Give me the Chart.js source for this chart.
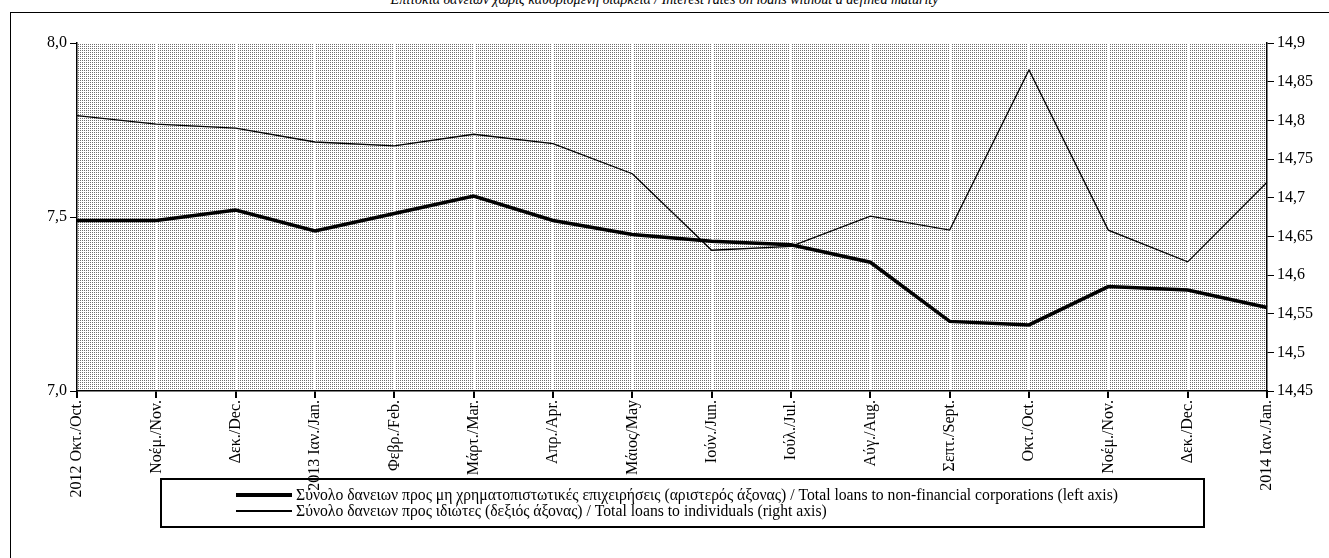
<!DOCTYPE html>
<html><head><meta charset="utf-8">
<script src="https://cdn.jsdelivr.net/npm/chart.js@4.4.0/dist/chart.umd.min.js"></script>
<style>
body{margin:0;background:#fff;font-family:"Liberation Serif",serif;}
#wrap{position:absolute;left:0;top:0;width:1329px;height:558px;}
#title{position:absolute;top:-8px;left:0;width:1329px;text-align:center;font-size:14px;font-style:italic;}
#frame{position:absolute;left:10px;top:12px;width:1330px;height:560px;border-left:1px solid #000;border-top:1px solid #000;}
#cv{position:absolute;left:0;top:0;}
#legend{position:absolute;left:160px;top:478px;width:1041px;height:46px;border:2px solid #000;font-size:15.7px;line-height:16px;}
.row{display:flex;align-items:center;padding-left:74px;}
.sw{display:inline-block;width:56px;margin-right:4px;background:#000;}
</style></head><body>
<div id="wrap">
<div id="title">Επιτόκια δανείων χωρίς καθορισμένη διάρκεια / Interest rates on loans without a defined maturity</div>
<div id="frame"></div>
<canvas id="cv" width="1329" height="558"></canvas>
<div id="legend">
 <div class="row" style="margin-top:7px"><span class="sw" style="height:4px"></span>Σύνολο δανειων προς μη χρηματοπιστωτικές επιχειρήσεις (αριστερός άξονας) / Total loans to non-financial corporations (left axis)</div>
 <div class="row"><span class="sw" style="height:2px"></span>Σύνολο δανειων προς ιδιώτες (δεξιός άξονας) / Total loans to individuals (right axis)</div>
</div>
</div>
<script>
const labels = ["2012 Οκτ./Oct.","Νοέμ./Nov.","Δεκ./Dec.","2013 Ιαν./Jan.","Φεβρ./Feb.","Μάρτ./Mar.","Απρ./Apr.","Μάιος/May","Ιούν./Jun.","Ιούλ./Jul.","Αύγ./Aug.","Σεπτ./Sept.","Οκτ./Oct.","Νοέμ./Nov.","Δεκ./Dec.","2014 Ιαν./Jan."];
const corporations = [7.49,7.49,7.52,7.46,7.51,7.56,7.49,7.45,7.43,7.42,7.37,7.20,7.19,7.30,7.29,7.24];
const individuals = [14.806,14.795,14.79,14.772,14.767,14.782,14.77,14.731,14.632,14.637,14.676,14.658,14.865,14.658,14.617,14.72];

// dotted background pattern
const pc = document.createElement("canvas"); pc.width = 2; pc.height = 2;
const px = pc.getContext("2d");
px.fillStyle = "#fff"; px.fillRect(0,0,2,2);
px.fillStyle = "#6e6e6e"; px.fillRect(0,0,1,1);
const bgPlugin = {
  id: "bg",
  beforeDraw(c) {
    const a = c.chartArea, g = c.ctx;
    g.save(); g.fillStyle = g.createPattern(pc, "repeat");
    g.fillRect(a.left, a.top, a.right - a.left, a.bottom - a.top);
    g.restore();
  }
};
const font = {family: "Liberation Serif", size: 16};
new Chart(document.getElementById("cv"), {
  type: "line",
  data: {labels, datasets: [
    {data: corporations, yAxisID: "y", borderColor: "#000", borderWidth: 3.5, pointRadius: 0, tension: 0},
    {data: individuals, yAxisID: "y1", borderColor: "#000", borderWidth: 1.3, pointRadius: 0, tension: 0}
  ]},
  options: {
    responsive: false, animation: false,
    layout: {padding: {top: 43, left: 0, right: 0, bottom: 0}},
    plugins: {legend: {display: false}, tooltip: {enabled: false}},
    scales: {
      x: {
        offset: false,
        grid: {color: "#fff", lineWidth: 2, tickColor: "#000", tickLength: 7, drawOnChartArea: true},
        border: {display: true, color: "#000", width: 1.5},
        ticks: {font, color: "#000", maxRotation: 90, minRotation: 90, autoSkip: false, padding: 2},
        afterFit(s) { s.height = 167; }
      },
      y: {
        min: 7.0, max: 8.0,
        afterBuildTicks(s) { s.ticks = [7, 7.5, 8].map(v => ({value: v})); },
        grid: {drawOnChartArea: false, tickColor: "#000", tickLength: 7},
        border: {color: "#000", width: 1.5},
        ticks: {font, color: "#000", callback: v => v.toFixed(1).replace(".", ",")},
        afterFit(s) { s.width = 77; }
      },
      y1: {
        position: "right", min: 14.45, max: 14.9,
        afterBuildTicks(s) { s.ticks = [14.45,14.5,14.55,14.6,14.65,14.7,14.75,14.8,14.85,14.9].map(v => ({value: v})); },
        grid: {drawOnChartArea: false, tickColor: "#000", tickLength: 7},
        border: {color: "#000", width: 1.5},
        ticks: {font, color: "#000", callback: v => String(+v.toFixed(2)).replace(".", ",")},
        afterFit(s) { s.width = 62; }
      }
    }
  },
  plugins: [bgPlugin]
});
</script>
</body></html>
